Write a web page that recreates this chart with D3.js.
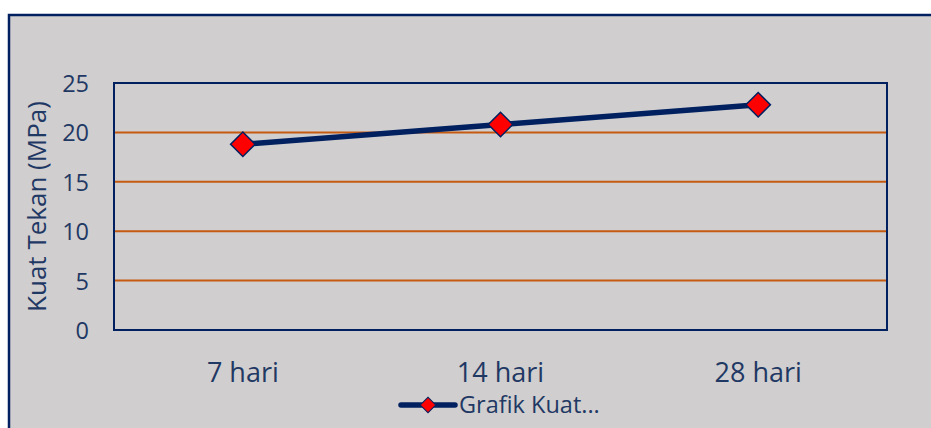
<!DOCTYPE html>
<html><head><meta charset="utf-8">
<script src="https://cdn.jsdelivr.net/npm/d3@7"></script>
<style>
html,body{margin:0;padding:0;background:#fff;}
svg{display:block;}
text{font-family:"Open Sans","Noto Sans",sans-serif;fill:#1f3864;}
</style></head>
<body>
<svg id="c" width="931" height="428"></svg>
<script>
const categories = ["7 hari", "14 hari", "28 hari"];
const values = [18.8, 20.8, 22.8];
const yTicks = [0, 5, 10, 15, 20, 25];
const seriesName = "Grafik Kuat...";
const yTitle = "Kuat Tekan (MPa)";

const svg = d3.select("#c");
const navy = "#002060";
const grid = "#c55a11";
const bg = "#d0cece";

// outer chart area
svg.append("rect").attr("x", 9).attr("y", 15).attr("width", 940).attr("height", 440)
  .attr("fill", bg).attr("stroke", navy).attr("stroke-width", 2.5);

const m = {l: 114, t: 83, r: 887, b: 330};
const x = d3.scaleBand().domain(categories).range([m.l, m.r]);
const y = d3.scaleLinear().domain([0, 25]).range([m.b, m.t]);

// gridlines
svg.append("g").selectAll("line").data(yTicks.filter(d => d > 0 && d < 25)).join("line")
  .attr("x1", m.l).attr("x2", m.r).attr("y1", d => y(d)).attr("y2", d => y(d))
  .attr("stroke", grid).attr("stroke-width", 2);

// plot border
svg.append("rect").attr("x", m.l).attr("y", m.t).attr("width", m.r - m.l).attr("height", m.b - m.t)
  .attr("fill", "none").attr("stroke", navy).attr("stroke-width", 2);

// y axis
const yAxis = d3.axisLeft(y).tickValues(yTicks).tickSize(0).tickPadding(25);
const gy = svg.append("g").attr("transform", `translate(${m.l},0)`).call(yAxis);
gy.select(".domain").remove();
gy.selectAll("text").style("font-size", "23.5px").style("font-family", "'Open Sans'")
  .attr("fill", "#1f3864").attr("dy", "0.36em");

// x axis
const xAxis = d3.axisBottom(x).tickSize(0);
const gx = svg.append("g").attr("transform", `translate(0,${m.b})`).call(xAxis);
gx.select(".domain").remove();
gx.selectAll("text").style("font-size", "27px").style("font-family", "'Open Sans'")
  .attr("fill", "#1f3864").attr("y", 52).attr("dy", 0);

// y title
svg.append("text").attr("transform", `translate(46,${(m.t + m.b) / 2 - 0}) rotate(-90)`)
  .attr("text-anchor", "middle").style("font-size", "26px").text(yTitle);

// line
const line = d3.line().x((d, i) => x(categories[i]) + x.bandwidth() / 2).y(d => y(d));
svg.append("path").datum(values).attr("d", line).attr("fill", "none")
  .attr("stroke", navy).attr("stroke-width", 5.5).attr("stroke-linejoin", "round");

const diamond = d3.symbol().type(d3.symbolSquare).size(300);
svg.append("g").selectAll("path").data(values).join("path")
  .attr("d", diamond)
  .attr("transform", (d, i) => `translate(${x(categories[i]) + x.bandwidth() / 2},${y(d)}) rotate(45)`)
  .attr("fill", "#ff0000").attr("stroke", navy).attr("stroke-width", 1.5);

// legend
const ly = 405;
svg.append("line").attr("x1", 401).attr("x2", 455).attr("y1", ly).attr("y2", ly)
  .attr("stroke", navy).attr("stroke-width", 5.5).attr("stroke-linecap", "round");
svg.append("path").attr("d", d3.symbol().type(d3.symbolSquare).size(120))
  .attr("transform", `translate(428,${ly}) rotate(45)`)
  .attr("fill", "#ff0000").attr("stroke", navy).attr("stroke-width", 1);
svg.append("text").attr("x", 459).attr("y", ly).attr("dy", "0.35em")
  .style("font-size", "23.5px").text(seriesName);
</script>
</body></html>
